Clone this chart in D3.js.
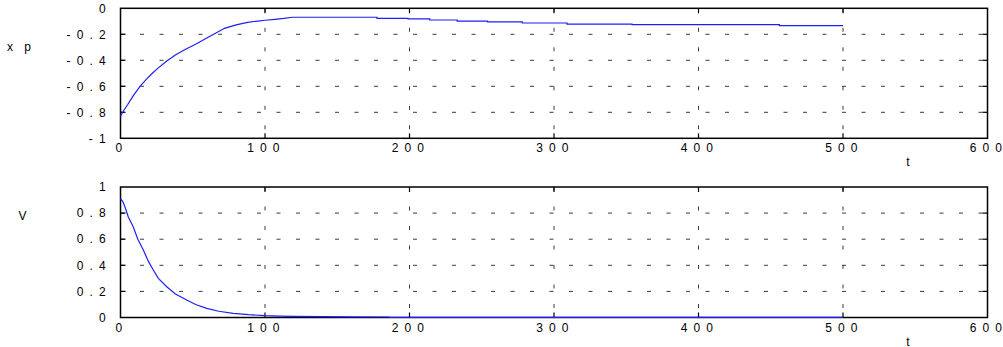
<!DOCTYPE html>
<html>
<head>
<meta charset="utf-8">
<script src="https://cdn.jsdelivr.net/npm/d3@7"></script>
<style>
  html, body { margin: 0; padding: 0; background: #fff; }
  svg { display: block; }
  text { font-family: "Liberation Sans", Arial, sans-serif; font-size: 12px; fill: #000; }
</style>
</head>
<body>
<svg id="chart" width="1003" height="347"></svg>
<script>
// time axis shared by both panels
const tTicks = [0, 100, 200, 300, 400, 500, 600];

// panel 1: xp against t
const xpT = [0, 2, 5, 9, 13.5, 18, 22, 26, 32, 38, 45, 52, 60, 64.5, 72, 80, 88, 95, 100, 107, 113, 119,
  177.5, 177.5, 199, 199, 214, 214, 233, 233, 254, 254, 278, 278, 309, 309, 354, 354, 456, 456, 500];
const xpVal = [-0.83, -0.79, -0.74, -0.67, -0.60, -0.545, -0.50, -0.46, -0.405, -0.36, -0.315, -0.277,
  -0.227, -0.20, -0.154, -0.128, -0.108, -0.098, -0.092, -0.085, -0.078, -0.069,
  -0.069, -0.077, -0.077, -0.082, -0.082, -0.09, -0.09, -0.098, -0.098, -0.105, -0.105, -0.113,
  -0.113, -0.121, -0.121, -0.126, -0.126, -0.134, -0.134];
const xpTicks = [0, -0.2, -0.4, -0.6, -0.8, -1];

// panel 2: V against t
const vT = [0, 1.5, 3, 5.4, 8.8, 12, 15.8, 19.3, 22.7, 26.2, 32, 38, 45.8, 52, 59.7, 68, 78, 88.5, 100,
  110, 120, 140, 160, 186, 186, 230, 300, 400, 500];
const vVal = [0.91, 0.89, 0.85, 0.77, 0.695, 0.60, 0.517, 0.43, 0.364, 0.30, 0.236, 0.18, 0.134, 0.10,
  0.07, 0.048, 0.032, 0.022, 0.014, 0.010, 0.008, 0.006, 0.005, 0.004, 0.001, 0.001, 0.0008, 0.0005, 0.0003];
const vTicks = [1, 0.8, 0.6, 0.4, 0.2, 0];

const spaced = s => s.split("").join(" ");
const fmtY = d => spaced(d === 0 ? "0" : (d === 1 || d === -1 ? String(d) : d.toFixed(1)));

const svg = d3.select("#chart");
const left = 120.5, right = 987.5;

function panel(opts) {
  const x = d3.scaleLinear().domain([0, 600]).range([left, right]);
  const y = d3.scaleLinear().domain(opts.domain).range([opts.bottom, opts.top]);
  const g = svg.append("g");

  const gridY = opts.ticks.filter(v => v !== opts.domain[0] && v !== opts.domain[1]);
  const gridX = tTicks.filter(v => v !== 0 && v !== 600);

  // dashed grid
  g.selectAll(".gy").data(gridY).join("line")
    .attr("x1", left).attr("x2", right)
    .attr("y1", d => y(d)).attr("y2", d => y(d))
    .attr("stroke", "#3a3a3a").attr("stroke-width", 1).attr("stroke-dasharray", "4,15.5");
  g.selectAll(".gx").data(gridX).join("line")
    .attr("x1", d => x(d)).attr("x2", d => x(d))
    .attr("y1", opts.top).attr("y2", opts.bottom)
    .attr("stroke", "#3a3a3a").attr("stroke-width", 1).attr("stroke-dasharray", "4,15.5");

  // inward ticks on all four sides
  const tl = 5;
  g.selectAll(".tyl").data(gridY).join("line")
    .attr("x1", left).attr("x2", left + tl).attr("y1", d => y(d)).attr("y2", d => y(d))
    .attr("stroke", "#000").attr("stroke-width", 1.2);
  g.selectAll(".tyr").data(gridY).join("line")
    .attr("x1", right - tl).attr("x2", right).attr("y1", d => y(d)).attr("y2", d => y(d))
    .attr("stroke", "#000").attr("stroke-width", 1.2);
  g.selectAll(".txb").data(gridX).join("line")
    .attr("x1", d => x(d)).attr("x2", d => x(d)).attr("y1", opts.bottom - tl).attr("y2", opts.bottom)
    .attr("stroke", "#000").attr("stroke-width", 1.2);
  g.selectAll(".txt").data(gridX).join("line")
    .attr("x1", d => x(d)).attr("x2", d => x(d)).attr("y1", opts.top).attr("y2", opts.top + tl)
    .attr("stroke", "#000").attr("stroke-width", 1.2);

  // frame
  g.append("rect")
    .attr("x", left).attr("y", opts.top)
    .attr("width", right - left).attr("height", opts.bottom - opts.top)
    .attr("fill", "none").attr("stroke", "#000").attr("stroke-width", 1.5);

  // curve
  const pts = opts.t.map((t, i) => [t, opts.v[i]]);
  g.append("path")
    .datum(pts)
    .attr("fill", "none")
    .attr("stroke", "#1f1ff5")
    .attr("stroke-width", 1.2)
    .attr("d", d3.line().x(d => x(d[0])).y(d => y(d[1])));

  // tick labels
  g.selectAll(".ly").data(opts.ticks).join("text")
    .attr("x", 107).attr("y", d => y(d)).attr("dy", "0.35em")
    .attr("text-anchor", "end").style("letter-spacing", "1.4px")
    .text(fmtY);
  g.selectAll(".lx").data(tTicks).join("text")
    .attr("x", d => x(d) - 1).attr("y", opts.bottom + 14)
    .attr("text-anchor", "middle").style("letter-spacing", "1.4px")
    .text(d => spaced(String(d)));

  // axis titles
  g.append("text").attr("x", 908).attr("y", opts.bottom + 28)
    .attr("text-anchor", "middle").text("t");
  g.append("text").attr("x", opts.labelX).attr("y", opts.labelY)
    .attr("text-anchor", "middle").style("letter-spacing", opts.labelSpacing)
    .text(opts.label);
}

panel({ top: 8.3, bottom: 138.3, domain: [-1, 0], ticks: xpTicks, t: xpT, v: xpVal,
        label: spaced("xp"), labelX: 21, labelY: 51, labelSpacing: "4px" });
panel({ top: 187, bottom: 317.5, domain: [0, 1], ticks: vTicks, t: vT, v: vVal,
        label: "V", labelX: 22.5, labelY: 220, labelSpacing: "0px" });
</script>
</body>
</html>
